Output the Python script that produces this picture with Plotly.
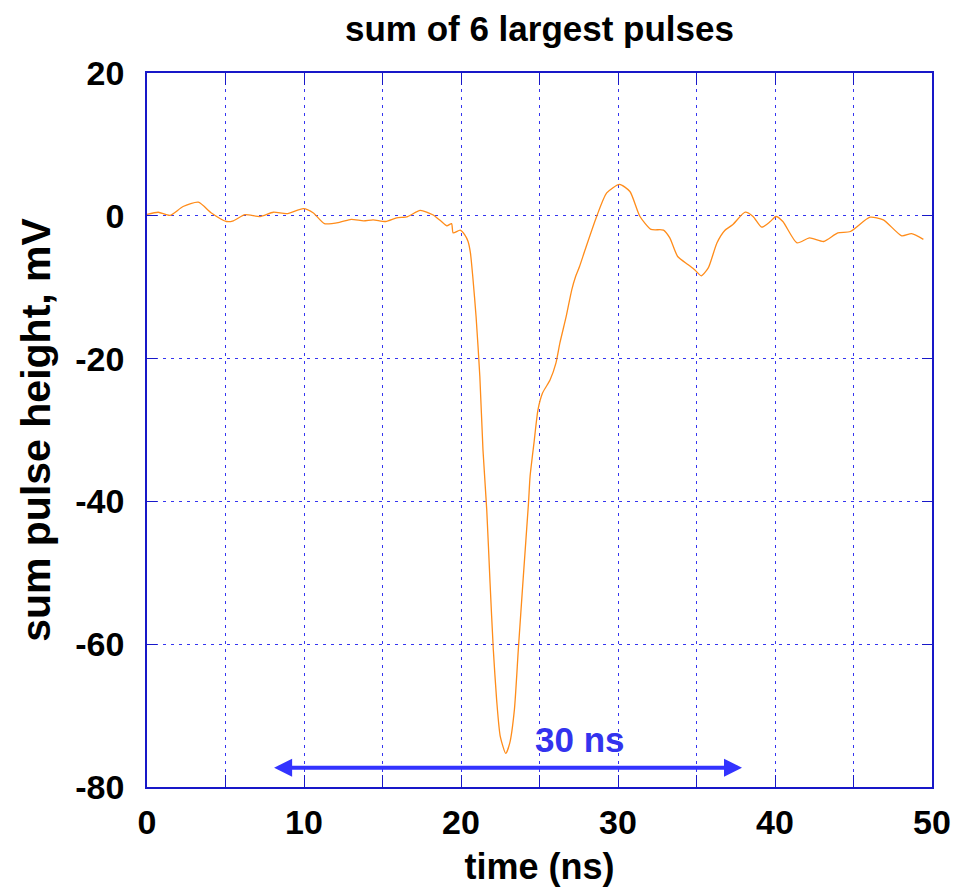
import plotly.graph_objects as go

title_text = "sum of 6 largest pulses"
x_title = "time (ns)"
y_title = "sum pulse height, mV"

x_tick_vals = [0, 10, 20, 30, 40, 50]
x_tick_text = ["0", "10", "20", "30", "40", "50"]
y_tick_vals = [20, 0, -20, -40, -60, -80]
y_tick_text = ["20", "0", "-20", "-40", "-60", "-80"]

time_ns = [0, 0.72, 1.46, 2.3, 3.27, 4.1, 5.07, 5.5, 6.24, 7.2, 8.05, 8.9, 9.96, 10.6,
           11.3, 12.3, 13.0, 13.8, 14.4, 15.2, 15.9, 16.6, 17.4, 18.2, 18.7, 19.1, 19.4,
           19.5, 19.95, 20.25, 20.45, 20.6, 20.75, 20.96, 21.2, 21.4, 21.64, 21.85, 22.06,
           22.27, 22.5, 22.85, 23.1, 23.4, 23.65, 23.97, 24.3, 24.4, 24.65, 24.9, 25.2,
           25.67, 26.05, 26.3, 26.7, 27.05, 27.3, 27.55, 27.9, 28.64, 29.28, 30.1, 30.76,
           31.4, 32.1, 32.9, 33.3, 33.8, 34.5, 34.9, 35.3, 35.75, 36.3, 36.8, 37.3, 38.1,
           38.6, 39.15, 39.7, 40.06, 40.5, 41.4, 42.2, 43.1, 44.0, 44.8, 46.05, 46.9,
           48.07, 48.7, 49.45]
pulse_mv = [0.2, 0.5, 0.05, 1.3, 1.9, 0.4, -0.8, -0.7, 0.15, -0.1, 0.5, 0.3, 1.0, 0.4,
            -1.1, -0.9, -0.5, -0.7, -0.56, -0.8, -0.3, -0.1, 0.75, 0.15, -0.7, -1.4, -1.1,
            -2.4, -2.0, -2.7, -3.6, -5.2, -8.5, -14.1, -22.5, -32.8, -41.2, -51.4, -60.8,
            -67.8, -72.9, -75.3, -73.9, -69.2, -60.8, -50.5, -40.2, -36.5, -31.8, -27.2, -24.8,
            -23.0, -20.6, -17.8, -14.1, -10.4, -8.5, -7.1, -4.8, -0.1, 3.2, 4.4, 3.4,
            -0.1, -1.9, -2.0, -3.1, -5.7, -6.9, -7.6, -8.4, -7.3, -3.8, -2.05, -1.26, 0.5,
            -0.1, -1.6, -0.8, -0.1, -0.8, -3.8, -3.1, -3.6, -2.4, -2.2, -0.2, -0.56,
            -2.8, -2.5, -3.3]

arrow_start = 8.0
arrow_end = 37.9
arrow_y = -77.3
arrow_label = "30 ns"
label_x = 27.55
label_y = -73.4

font_family = "Liberation Sans, Arial, sans-serif"
grid_color = "#3535f0"
frame_color = "#1818c8"
grid_dash = "3px,5px"

fig = go.Figure()
fig.add_trace(go.Scatter(
    x=time_ns, y=pulse_mv, mode="lines",
    line=dict(color="#ff8c1a", width=1.3, shape="spline", smoothing=0.6),
    showlegend=False, hoverinfo="skip",
))

fig.add_annotation(
    x=arrow_end, y=arrow_y, ax=arrow_start, ay=arrow_y,
    xref="x", yref="y", axref="x", ayref="y",
    text="", showarrow=True, arrowhead=2, arrowside="end+start",
    arrowsize=0.9, arrowwidth=4, arrowcolor="#3333ff",
)
fig.add_annotation(
    x=label_x, y=label_y, xref="x", yref="y", text="<b>" + arrow_label + "</b>",
    showarrow=False, font=dict(family=font_family, size=35, color="#3333ee"),
)

fig.update_layout(
    width=954, height=893,
    margin=dict(l=147, r=22, t=73, b=106),
    paper_bgcolor="white", plot_bgcolor="white",
    title=dict(text="<b>" + title_text + "</b>", x=0.5655, xanchor="center",
               y=0.968, yanchor="middle",
               font=dict(family=font_family, size=35, color="black")),
    font=dict(family=font_family, color="black"),
)

fig.update_xaxes(
    range=[0, 50], tickvals=x_tick_vals, ticktext=x_tick_text,
    showgrid=True, gridcolor=grid_color, griddash=grid_dash, gridwidth=1,
    minor=dict(dtick=5, tick0=0, showgrid=True, gridcolor=grid_color, griddash=grid_dash,
               ticks="inside", ticklen=12, tickcolor=frame_color),
    ticks="inside", ticklen=12, tickcolor=frame_color,
    showline=True, linecolor=frame_color, linewidth=1.5, mirror="ticks",
    zeroline=False, automargin=False, ticklabelstandoff=4,
    tickfont=dict(family=font_family, size=34, color="black", weight="bold"),
    title=dict(text="<b>" + x_title + "</b>", standoff=14,
               font=dict(family=font_family, size=36, color="black")),
)
fig.update_yaxes(
    range=[-80, 20], tickvals=y_tick_vals, ticktext=y_tick_text,
    showgrid=True, gridcolor=grid_color, griddash=grid_dash, gridwidth=1,
    ticks="inside", ticklen=10, tickcolor=frame_color,
    showline=True, linecolor=frame_color, linewidth=1.5, mirror="ticks",
    zeroline=False, automargin=False, ticklabelstandoff=14,
    tickfont=dict(family=font_family, size=34, color="black", weight="bold"),
    title=dict(text="<b>" + y_title + "</b>", standoff=12,
               font=dict(family=font_family, size=41, color="black")),
)

fig.write_html("out.html", config={"displayModeBar": False},
               post_script="document.body.style.margin='0';")
